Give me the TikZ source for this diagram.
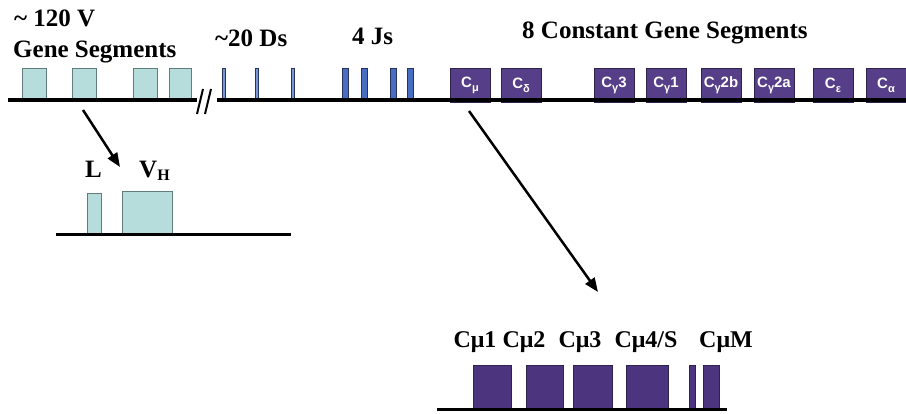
\documentclass[tikz,border=0pt]{standalone}
\usepackage{fontspec}
\setmainfont{Liberation Serif}
\newfontfamily\arialfont{Liberation Sans}
\usetikzlibrary{arrows.meta}
\definecolor{vfill}{RGB}{182,220,220}
\definecolor{vline}{RGB}{95,125,125}
\definecolor{dfill}{RGB}{118,150,212}
\definecolor{jfill}{RGB}{72,110,195}
\definecolor{bline}{RGB}{40,50,90}
\definecolor{cfill}{RGB}{86,62,136}
\definecolor{cline}{RGB}{45,35,75}
\definecolor{mfill}{RGB}{76,52,126}
\newcommand\lsub[1]{\raisebox{-0.5ex}{\fontsize{11}{11}\selectfont #1}}
\newcommand\clab[1]{\raisebox{-3pt}{#1}}
\begin{document}
\begin{tikzpicture}[x=1pt,y=-1pt,
  segbox/.style={inner sep=0pt, outer sep=0pt, anchor=south west, line width=0.8pt},
  vseg/.style={segbox, fill=vfill, draw=vline},
  dseg/.style={segbox, fill=dfill, draw=bline, minimum width=3pt, minimum height=32pt},
  jseg/.style={segbox, fill=jfill, draw=bline, minimum width=6pt, minimum height=32pt},
  cseg/.style={segbox, fill=cfill, draw=cline, minimum width=40pt, minimum height=34pt,
               text=white, font=\arialfont\bfseries\fontsize{15}{15}\selectfont},
  mseg/.style={segbox, fill=mfill, draw=cline, minimum height=44pt},
  dna/.style={line width=3.5pt, black},
  brk/.style={line width=2pt, black},
  lbl/.style={font=\fontsize{25}{30}\selectfont\bfseries, anchor=base west, inner sep=0pt},
  blbl/.style={font=\fontsize{24}{28}\selectfont\bfseries, anchor=base, inner sep=0pt},
  arr/.style={line width=2.5pt, -{Triangle[length=14pt,width=11pt]}}
]
\useasboundingbox (0,0) rectangle (906,414);

% ---- top row: V segments
\node[vseg, minimum width=24pt, minimum height=32pt] (v1) at (22,100) {};
\node[vseg, minimum width=24pt, minimum height=32pt] (v2) at (72,100) {};
\node[vseg, minimum width=24pt, minimum height=32pt] (v3) at (133,100) {};
\node[vseg, minimum width=22pt, minimum height=32pt] (v4) at (169,100) {};
% D segments
\node[dseg] (d1) at (222,100) {};
\node[dseg] (d2) at (255,100) {};
\node[dseg] (d3) at (291,100) {};
% J segments
\node[jseg] (j1) at (342,100) {};
\node[jseg] (j2) at (361,100) {};
\node[jseg] (j3) at (390,100) {};
\node[jseg] (j4) at (407,100) {};
% C segments
\node[cseg] (cmu) at (450,102) {\clab{C\lsub{μ}}};
\node[cseg] (cdel) at (501,102) {\clab{C\lsub{δ}}};
\node[cseg] (cg3) at (594,102) {\clab{C\lsub{γ}3}};
\node[cseg] (cg1) at (646,102) {\clab{C\lsub{γ}1}};
\node[cseg] (cg2b) at (701,102) {\clab{C\lsub{γ}2b}};
\node[cseg] (cg2a) at (754,102) {\clab{C\lsub{γ}2a}};
\node[cseg] (ceps) at (813,102) {\clab{C\lsub{ε}}};
\node[cseg] (calp) at (866,102) {\clab{C\lsub{α}}};

% DNA line with break
\coordinate (l0) at (8,100);
\coordinate (l1) at (197,100);
\coordinate (r0) at (217,100);
\coordinate (r1) at (906,100);
\draw[dna] (l0) -- (l1);
\draw[dna] (r0) -- (r1);
\coordinate (s1a) at (203,89);
\coordinate (s1b) at (197,114);
\coordinate (s2a) at (211,89);
\coordinate (s2b) at (205,114);
\draw[brk] (s1a) -- (s1b);
\draw[brk] (s2a) -- (s2b);

% top labels
\node[lbl] (t120) at (14,27) {\textasciitilde{} 120 V};
\node[lbl] (tgene) at (13,58) {Gene Segments};
\node[lbl] (tds) at (215,47) {\textasciitilde 20 Ds};
\node[lbl] (tjs) at (352,45) {4 Js};
\node[lbl] (tconst) at (522,39) {8 Constant Gene Segments};

% ---- lower left: L V_H
\node[vseg, minimum width=14pt, minimum height=42pt] (lseg) at (87,235) {};
\node[vseg, minimum width=50pt, minimum height=44pt] (vhseg) at (122,235) {};
\coordinate (b0) at (56,235);
\coordinate (b1) at (291,235);
\draw[dna, line width=3pt] (b0) -- (b1);
\node[lbl] (tl) at (85,178) {L};
\node[lbl] (tvh) at (139,178) {V\raisebox{-0.25ex}{\fontsize{16}{16}\selectfont H}};

% ---- lower right: C mu exons
\node[mseg, minimum width=38pt] (m1) at (473,409) {};
\node[mseg, minimum width=37pt] (m2) at (526,409) {};
\node[mseg, minimum width=39pt] (m3) at (573,409) {};
\node[mseg, minimum width=42pt] (m4) at (626,409) {};
\node[mseg, minimum width=6pt] (m5) at (689,409) {};
\node[mseg, minimum width=16pt] (m6) at (703,409) {};
\coordinate (c0) at (437,409);
\coordinate (c1) at (727,409);
\draw[dna, line width=3pt] (c0) -- (c1);
\node[blbl] (tm1) at (475,348) {Cμ1};
\node[blbl] (tm2) at (524,348) {Cμ2};
\node[blbl] (tm3) at (580,348) {Cμ3};
\node[blbl] (tm4) at (646,348) {Cμ4/S};
\node[blbl] (tm5) at (726,348) {CμM};

% arrows
\coordinate (a1s) at (83,110);
\coordinate (a1e) at (120,167);
\coordinate (a2s) at (469,111);
\coordinate (a2e) at (598,292);
\draw[arr] (a1s) -- (a1e);
\draw[arr] (a2s) -- (a2e);
\end{tikzpicture}
\end{document}
